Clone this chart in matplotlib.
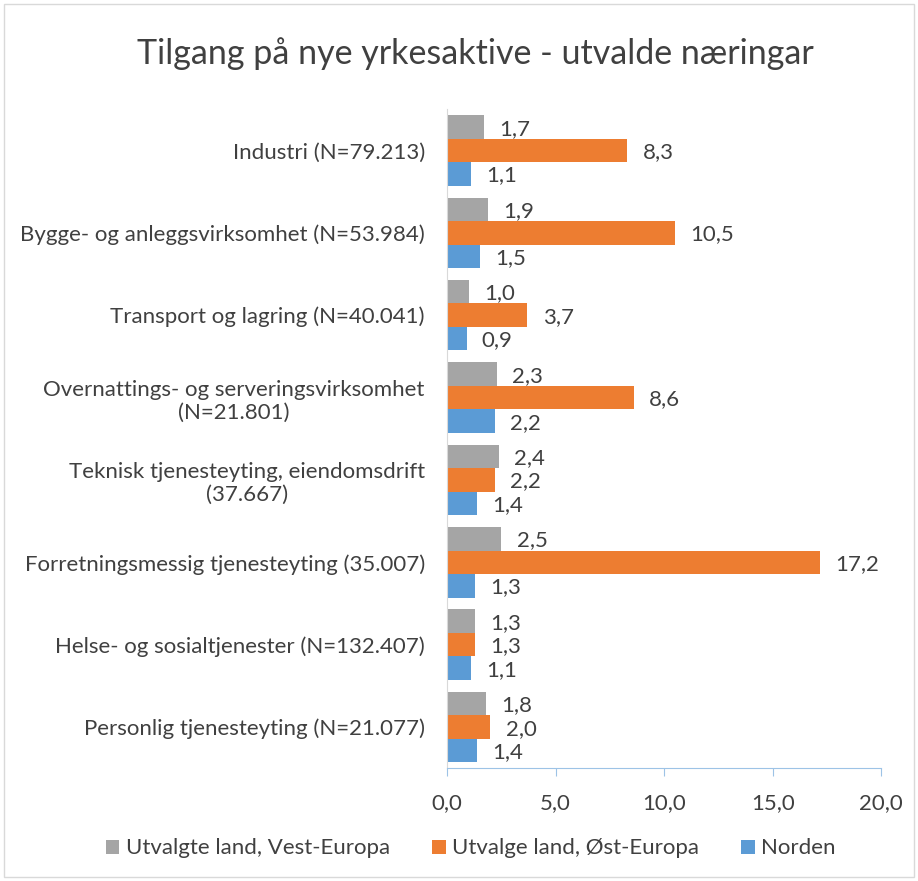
import numpy as np
import matplotlib.pyplot as plt
from matplotlib.patches import Rectangle

plt.rcParams['font.family'] = ['Lato', 'DejaVu Sans']

# data
naeringar = ['Industri (N=79.213)',
             'Bygge- og anleggsvirksomhet (N=53.984)',
             'Transport og lagring (N=40.041)',
             'Overnattings- og serveringsvirksomhet\n(N=21.801)',
             'Teknisk tjenesteyting, eiendomsdrift\n(37.667)',
             'Forretningsmessig tjenesteyting (35.007)',
             'Helse- og sosialtjenester (N=132.407)',
             'Personlig tjenesteyting (N=21.077)']
vest_europa = [1.7, 1.9, 1.0, 2.3, 2.4, 2.5, 1.3, 1.8]
ost_europa = [8.3, 10.5, 3.7, 8.6, 2.2, 17.2, 1.3, 2.0]
norden = [1.1, 1.5, 0.9, 2.2, 1.4, 1.3, 1.1, 1.4]

serier = ['Utvalgte land, Vest-Europa', 'Utvalge land, Øst-Europa', 'Norden']
farger = ['#A5A5A5', '#ED7D31', '#5B9BD5']
tekstfarge = '#404040'

fig = plt.figure(figsize=(9.18, 8.81), dpi=100)
ax = fig.add_axes([0.487, 0.128, 0.473, 0.748])

y = np.arange(len(naeringar))
h = 0.285
for k, (verdier, navn, farge) in enumerate(zip([vest_europa, ost_europa, norden], serier, farger)):
    pos = y + (k - 1) * h
    ax.barh(pos, verdier, height=h, color=farge, label=navn)
    for p, v in zip(pos, verdier):
        ax.text(v + 0.7, p + 0.02, f'{v:.1f}'.replace('.', ','), va='center', ha='left',
                fontsize=16, color=tekstfarge)

ax.set_ylim(len(naeringar) - 0.5, -0.5)
ax.set_xlim(0, 20)
ax.set_yticks(y)
ax.set_yticklabels(naeringar, fontsize=16, color=tekstfarge)
for lab in ax.get_yticklabels():
    lab.set_multialignment('center')
ax.set_xticks([0, 5, 10, 15, 20])
ax.set_xticklabels(['0,0', '5,0', '10,0', '15,0', '20,0'], fontsize=16, color=tekstfarge)
ax.tick_params(axis='y', length=0, pad=16)
ax.tick_params(axis='x', length=6, color='#9DC3E6', pad=12)

for s in ['top', 'right']:
    ax.spines[s].set_visible(False)
ax.spines['left'].set_color('#D9D9D9')
ax.spines['bottom'].set_color('#9DC3E6')

fig.suptitle('Tilgang på nye yrkesaktive - utvalde næringar', fontsize=24.5,
             color=tekstfarge, x=0.518, y=0.958)

fig.legend(loc='center', bbox_to_anchor=(0.513, 0.037), ncol=3, frameon=False,
           fontsize=16, handlelength=0.6, handleheight=0.6, handletextpad=0.3,
           columnspacing=1.9, labelcolor=tekstfarge)

fig.patches.append(Rectangle((0.004, 0.004), 0.992, 0.992, transform=fig.transFigure,
                             fill=False, edgecolor='#D9D9D9', linewidth=1))

fig.savefig('out.png', dpi=100)
